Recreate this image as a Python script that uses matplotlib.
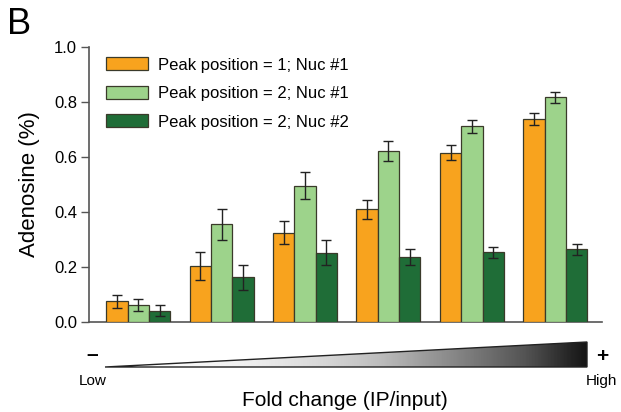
import numpy as np
import matplotlib
matplotlib.use('Agg')
import matplotlib.pyplot as plt
from matplotlib.patches import Polygon

plt.rcParams['font.family'] = ['Liberation Sans', 'DejaVu Sans']

# =============================================================================
# DATA
# =============================================================================

series_labels = ['Peak position = 1; Nuc #1',
                 'Peak position = 2; Nuc #1',
                 'Peak position = 2; Nuc #2']
pos1_nuc1 = [0.075, 0.204, 0.325, 0.410, 0.616, 0.738]
pos2_nuc1 = [0.062, 0.355, 0.496, 0.622, 0.711, 0.818]
pos2_nuc2 = [0.041, 0.162, 0.252, 0.236, 0.253, 0.264]
pos1_nuc1_err = [0.023, 0.050, 0.043, 0.034, 0.026, 0.023]
pos2_nuc1_err = [0.022, 0.057, 0.050, 0.035, 0.022, 0.020]
pos2_nuc2_err = [0.020, 0.045, 0.046, 0.030, 0.020, 0.020]
y_ticks = [0.0, 0.2, 0.4, 0.6, 0.8, 1.0]

colors = ['#F8A31E', '#9DD38B', '#1F6D37']

# =============================================================================
# FIGURE
# =============================================================================

W, H = 621, 412
fig = plt.figure(figsize=(W / 100, H / 100), dpi=100)

ax_l, ax_r, ax_b, ax_t = 89, 602, 322, 47
ax = fig.add_axes([ax_l / W, (H - ax_b) / H, (ax_r - ax_l) / W, (ax_b - ax_t) / H])

values = [pos1_nuc1, pos2_nuc1, pos2_nuc2]
errors = [pos1_nuc1_err, pos2_nuc1_err, pos2_nuc2_err]
x = np.arange(len(pos1_nuc1))
width = 0.256

for i, (vals, errs) in enumerate(zip(values, errors)):
    ax.bar(x + (i - 1) * width, vals, width, yerr=errs, color=colors[i],
           edgecolor='#3a3a2a', linewidth=0.9, label=series_labels[i],
           error_kw=dict(ecolor='#222222', elinewidth=1.0, capsize=3.6,
                         capthick=1.0), zorder=3)

ax.set_xlim(-0.59, 5.56)
ax.set_ylim(0, 1.0)
ax.set_yticks(y_ticks)
ax.set_yticklabels([f'{t:.1f}' for t in y_ticks], fontsize=12)
ax.set_xticks([])
ax.tick_params(axis='y', length=5.5, width=1.0, color='#555555', pad=3)
ax.spines[['top', 'right']].set_visible(False)
for s in ['left', 'bottom']:
    ax.spines[s].set_color('#555555')
    ax.spines[s].set_linewidth(1.2)
ax.set_ylabel('Adenosine (%)', fontsize=16, labelpad=10)

ax.legend(loc='upper left', bbox_to_anchor=(0.033, 0.962), frameon=False,
          fontsize=12, handlelength=2.5, handleheight=0.8,
          handletextpad=0.65, labelspacing=0.8, borderpad=0,
          borderaxespad=0)

fig.text(19 / W, 1 - 24 / H, 'B', fontsize=26, ha='center', va='center')

# --- gradient wedge below the axis (fold change scale) ---
ov = fig.add_axes([0, 0, 1, 1], zorder=-1)
ov.set_xlim(0, W)
ov.set_ylim(H, 0)
ov.axis('off')

tri = [(105, 367), (587, 342), (587, 367)]
grad = np.linspace(0, 1, 512) ** 1.6
grad = np.tile(grad, (2, 1))
im = ov.imshow(grad, cmap='Greys', vmin=0, vmax=1.08, aspect='auto',
               extent=(105, 587, 367, 342), interpolation='bilinear')
wedge = Polygon(tri, closed=True, facecolor='none', edgecolor='#222222',
                linewidth=1.0)
ov.add_patch(wedge)
im.set_clip_path(wedge)

fig.text(92 / W, 1 - 354 / H, '\u2013', fontsize=15, fontweight='bold',
         ha='center', va='center')
fig.text(602 / W, 1 - 356 / H, '+', fontsize=15, fontweight='bold',
         ha='center', va='center')
fig.text(93 / W, 1 - 381 / H, 'Low', fontsize=11, ha='center', va='center')
fig.text(601 / W, 1 - 381 / H, 'High', fontsize=11, ha='center', va='center')
fig.text(345 / W, 1 - 400 / H, 'Fold change (IP/input)', fontsize=15,
         ha='center', va='center')

plt.savefig('out.png', dpi=100)
